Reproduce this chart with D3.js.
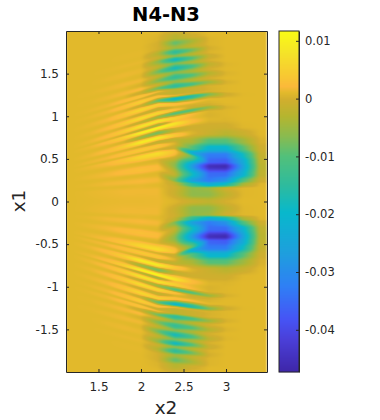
<!DOCTYPE html>
<html><head><meta charset="utf-8">
<script src="https://cdn.jsdelivr.net/npm/d3@7"></script>
<style>html,body{margin:0;padding:0;background:#fff}svg{display:block}text{font-family:"DejaVu Sans",sans-serif;fill:#262626}</style>
</head><body><div id="chart"></div>
<script>
// The surface is mirror-symmetric about x1 = 0, and its fringes are followed by
// "ridge" rows: ridgeX1[r][c] is the |x1| of ridge r at x2 = gridX2[c], ridgeValue[r][c] the value there (thousandths).
const gridX2 = [1.2,1.4,1.6,1.8,2.0,2.2,2.4,2.6,2.8,3.0,3.2,3.4];
const ridgeX1 = [
[0,0,0,0,0,0,0,0,0,0,0,0],
[.101,.107,.113,.119,.125,.132,.094,.082,.082,.082,.082,.082],
[.141,.152,.161,.172,.181,.192,.165,.153,.153,.153,.153,.153],
[.172,.188,.204,.22,.235,.252,.212,.2,.2,.2,.2,.2],
[.214,.236,.258,.28,.302,.325,.247,.247,.247,.247,.247,.247],
[.256,.285,.313,.34,.368,.396,.318,.318,.318,.318,.318,.318],
[.311,.345,.379,.413,.447,.481,.424,.412,.412,.412,.412,.412],
[.365,.405,.445,.485,.525,.565,.588,.53,.471,.471,.471,.471],
[.387,.431,.475,.519,.564,.607,.635,.57,.541,.541,.541,.541],
[.409,.458,.506,.553,.601,.649,.682,.624,.624,.624,.624,.624],
[.447,.498,.547,.598,.647,.698,.729,.706,.706,.706,.706,.706],
[.485,.536,.588,.641,.693,.745,.776,.8,.8,.8,.8,.8],
[.534,.588,.642,.696,.751,.805,.835,.871,.882,.882,.882,.882],
[.584,.64,.695,.752,.807,.864,.918,.941,.965,.965,.965,.965],
[.604,.661,.72,.778,.835,.894,.941,.988,1.012,1.012,1.012,1.012],
[.641,.701,.761,.821,.881,.941,.976,1.024,1.059,1.059,1.059,1.059],
[.688,.748,.808,.868,.928,.988,1.035,1.071,1.106,1.106,1.106,1.106],
[.735,.795,.855,.915,.975,1.035,1.071,1.106,1.141,1.141,1.141,1.141],
[.782,.842,.902,.962,1.022,1.082,1.106,1.129,1.165,1.165,1.165,1.165],
[.835,.895,.955,1.015,1.075,1.135,1.141,1.165,1.2,1.2,1.2,1.2],
[.882,.942,1.002,1.062,1.122,1.182,1.206,1.235,1.259,1.259,1.259,1.259],
[.929,.989,1.049,1.109,1.169,1.229,1.241,1.271,1.294,1.294,1.294,1.294],
[.965,1.025,1.085,1.145,1.205,1.265,1.271,1.294,1.318,1.318,1.318,1.318],
[1.007,1.064,1.119,1.175,1.231,1.287,1.306,1.329,1.353,1.353,1.353,1.353],
[1.058,1.112,1.166,1.22,1.274,1.328,1.353,1.376,1.4,1.4,1.4,1.4],
[1.108,1.16,1.212,1.265,1.316,1.368,1.406,1.424,1.447,1.447,1.447,1.447],
[1.165,1.215,1.265,1.315,1.365,1.415,1.459,1.482,1.506,1.506,1.506,1.506],
[1.218,1.268,1.318,1.368,1.418,1.468,1.512,1.529,1.553,1.553,1.553,1.553],
[1.271,1.321,1.371,1.421,1.471,1.521,1.565,1.588,1.612,1.612,1.612,1.612],
[1.329,1.38,1.429,1.48,1.529,1.58,1.618,1.635,1.659,1.659,1.659,1.659],
[1.388,1.439,1.488,1.539,1.588,1.639,1.665,1.682,1.706,1.706,1.706,1.706],
[1.435,1.486,1.535,1.586,1.635,1.686,1.706,1.729,1.753,1.753,1.753,1.753],
[1.482,1.533,1.582,1.633,1.682,1.733,1.753,1.776,1.8,1.8,1.8,1.8],
[1.541,1.592,1.641,1.692,1.741,1.792,1.806,1.824,1.847,1.847,1.847,1.847],
[1.6,1.651,1.7,1.751,1.8,1.851,1.859,1.882,1.906,1.906,1.906,1.906],
[1.659,1.709,1.759,1.809,1.859,1.909,1.918,1.941,1.965,1.965,1.965,1.965],
[1.812,1.852,1.892,1.932,1.972,2.01,2.01,2.01,2.01,2.01,2.01,2.01]
];
const ridgeValue = [
[1,1.1,1.2,1.3,1.3,1.4,.6,-1,-2,0,1,1],
[1,1.2,1.4,1.6,1.6,1.6,-1,-6,-6,-2,.8,1],
[1,1,1.1,1.1,1.2,1,-.5,-6,-5,-.5,.8,1],
[1,1.2,1.6,1.8,2,1.8,-2,-14,-23,-18,-4,.8],
[1,1,1.1,1,1,.8,-7,-26,-33,-29,-11,-.5],
[1,1.3,1.7,2.4,2.8,2.4,-2,-18,-35,-35,-22,-2],
[1,1,1,1,.8,.5,-6,-27,-45,-46,-26,-2.5],
[1,1.4,2,3.5,6,7,3,-9,-36,-37,-24,-2],
[1,1,1,.9,.5,.2,-1,-23,-33,-33,-19,-1.5],
[1,1.4,1.8,3,4,4,.5,-10,-21,-21,-10,-.5],
[1,1,1,.8,0,-2,-2,-4,-10,-10,-5,.3],
[1,1.4,2.4,4.5,9,9,4,.5,-1,-2.5,-1,.9],
[1,1,.9,.3,-5,-8,-2,-.5,-.5,-.5,.8,1],
[1,1.4,2.4,5,10,11,8,2.5,.7,.6,1,1],
[1,1,.8,0,-3,-5,3,1.5,.3,.8,1,1],
[1,1.4,2.3,4.5,8,8,5,2,.5,.8,1,1],
[1,1,.9,.3,-2,-5,-10,-10,-5,.2,1,1],
[1,1.3,2.1,4,7,6,3,-1,0,.8,1,1],
[1,1,1,.6,-1,-2,.5,0,.5,1,1,1],
[1,1.3,1.8,3.5,6,5,3,2,1,1,1,1],
[1,1,1,.7,-1,-9,-20,-16,-7,-.5,.9,1],
[1,1.2,1.6,3,5,3,1,0,.3,.8,1,1],
[1,1,1,.8,.3,-1,-2,-1,.2,.8,1,1],
[1,1.2,1.5,2.5,3.5,1.5,-2,-1,.3,.8,1,1],
[1,1,1,.9,-1,-8,-15,-11,-5,.2,1,1],
[1,1.1,1.4,1.8,2.2,-1,-6,-3,0,.9,1,1],
[1,1,1,1,.3,-7,-14,-10,-3,.5,1,1],
[1,1.1,1.3,1.6,1.6,-2,-7,-4,0,.9,1,1],
[1,1,1,1,.8,-8,-18,-11,-2,.7,1,1],
[1,1,1.2,1.4,1.3,-2,-8,-4,.2,1,1,1],
[1,1,1,1,1,-6,-19,-10,-1,1,1,1],
[1,1,1.1,1.2,1.2,-1,-7,-3,.5,1,1,1],
[1,1,1,1,1,-3,-15,-8,0,1,1,1],
[1,1,1,1.1,1.1,0,-5,-2,.6,1,1,1],
[1,1,1,1,1,0,-9,-4,.6,1,1,1],
[1,1,1,1,1,.5,-3,-.5,1,1,1,1],
[1,1,1,1,1,1,-.5,.8,1,1,1,1]
];

const xTicks = [1.5,2,2.5,3];
const xTickLabels = ["1.5","2","2.5","3"];
const yTicks = [-1.5,-1,-0.5,0,0.5,1,1.5];
const yTickLabels = ["-1.5","-1","-0.5","0","0.5","1","1.5"];
const cbTicks = [0.01,0,-0.01,-0.02,-0.03,-0.04];
const cbTickLabels = ["0.01","0","-0.01","-0.02","-0.03","-0.04"];
const cmapValues = [-47.3,-41.7,-38.2,-32.5,-26.7,-19.7,-15.1,-9.95,-6.6,-3.05,-0.1,1,2.1,3.5,7.9,11.7];
const cmapColors = ["#3e26a8","#4a3fd8","#4654f5","#2f7ff5","#1e9fdd","#08b8cc","#2dbb9e","#52c07a","#88bb50","#b5b52f","#d2ae2e","#e2b92b","#fbb93a","#f8c533","#f5e328","#f9fb15"];

const margin = {left:66, right:267, top:31, bottom:372};
const x = d3.scaleLinear().domain([1.118,3.482]).range([margin.left,margin.right]);
const y = d3.scaleLinear().domain([2.0,-2.0]).range([margin.top,margin.bottom]);
const color = d3.scaleLinear().domain(cmapValues).range(cmapColors).clamp(true);
const svg = d3.select("#chart").append("svg").attr("width",380).attr("height",420);
const defs = svg.append("defs");
defs.append("clipPath").attr("id","plotClip").append("rect")
  .attr("x",margin.left).attr("y",margin.top).attr("width",margin.right-margin.left).attr("height",margin.bottom-margin.top);
const f = defs.append("filter").attr("id","soft").attr("filterUnits","userSpaceOnUse")
  .attr("x",0).attr("y",0).attr("width",380).attr("height",420).attr("color-interpolation-filters","sRGB");
f.append("feGaussianBlur").attr("stdDeviation","1.3 0.6");

// paint the surface between ridges, as an interpolated pseudocolour plot
const W = margin.right-margin.left, H = margin.bottom-margin.top;
const canvas = document.createElement("canvas"); canvas.width=W; canvas.height=H;
const ctx = canvas.getContext("2d"); const img = ctx.createImageData(W,H);
const colIndex = d3.scaleLinear().domain(gridX2).range(d3.range(gridX2.length)).clamp(true);
const lut = d3.range(0,1181).map(i=>d3.rgb(color(-47.3+i*0.05)));
for(let px=0;px<W;px++){
  const ci = colIndex(x.invert(margin.left+px+0.5));
  const c0 = Math.min(Math.floor(ci),gridX2.length-2), tx = ci-c0;
  const pos = ridgeX1.map(r=>r[c0]*(1-tx)+r[c0+1]*tx);
  const val = ridgeValue.map(r=>r[c0]*(1-tx)+r[c0+1]*tx);
  for(let py=0;py<H;py++){
    const a = Math.abs(y.invert(margin.top+py+0.5));
    let j = d3.bisectRight(pos,a)-1; j = Math.max(0,Math.min(j,pos.length-2));
    const gap = Math.max(pos[j+1]-pos[j],1e-4);
    const t = Math.max(0,Math.min(1,(a-pos[j])/gap));
    const s = (1-Math.cos(Math.PI*t))/2;
    const v = val[j]*(1-s)+val[j+1]*s;
    const c = lut[Math.max(0,Math.min(1180,Math.round((v+47.3)/0.05)))];
    const o = (py*W+px)*4;
    img.data[o]=c.r; img.data[o+1]=c.g; img.data[o+2]=c.b; img.data[o+3]=255;
  }
}
ctx.putImageData(img,0,0);
svg.append("g").attr("clip-path","url(#plotClip)").append("image")
  .attr("x",margin.left).attr("y",margin.top).attr("width",W).attr("height",H)
  .attr("href",canvas.toDataURL()).attr("filter","url(#soft)");

const axisCol = "#262626";
function styleAxis(g){g.selectAll("path").attr("stroke",axisCol).attr("stroke-width",1);g.selectAll("line").attr("stroke",axisCol).attr("stroke-width",1);g.selectAll("text").attr("fill","#262626").attr("font-size",12).attr("font-family","DejaVu Sans");}
const fmtX=(d)=>xTickLabels[xTicks.indexOf(d)], fmtY=(d)=>yTickLabels[yTicks.indexOf(d)];
svg.append("g").attr("transform",`translate(0,${margin.bottom})`).call(d3.axisBottom(x).tickValues(xTicks).tickFormat(fmtX).tickSize(-3).tickSizeOuter(0).tickPadding(10)).call(styleAxis);
svg.append("g").attr("transform",`translate(0,${margin.top})`).call(d3.axisTop(x).tickValues(xTicks).tickFormat("").tickSize(-3).tickSizeOuter(0)).call(styleAxis);
svg.append("g").attr("transform",`translate(${margin.left},0)`).call(d3.axisLeft(y).tickValues(yTicks).tickFormat(fmtY).tickSize(-3).tickSizeOuter(0).tickPadding(7)).call(styleAxis);
svg.append("g").attr("transform",`translate(${margin.right},0)`).call(d3.axisRight(y).tickValues(yTicks).tickFormat("").tickSize(-3).tickSizeOuter(0)).call(styleAxis);

svg.append("text").attr("x",166).attr("y",21).attr("text-anchor","middle").attr("font-size",19.5).attr("font-weight","bold").style("fill","#000").text("N4-N3");
svg.append("text").attr("x",166).attr("y",414).attr("text-anchor","middle").attr("font-size",18.5).text("x2");
svg.append("text").attr("transform","translate(25,201) rotate(-90)").attr("text-anchor","middle").attr("font-size",18.5).text("x1");

// colourbar
const cbX = [279,299];
const cbY = d3.scaleLinear().domain([11.7,-47.3]).range([margin.top,margin.bottom]);
const cbSteps = d3.range(margin.top,margin.bottom);
svg.append("g").selectAll("rect").data(cbSteps).join("rect")
  .attr("x",cbX[0]).attr("width",cbX[1]-cbX[0]).attr("y",d=>d).attr("height",1.2)
  .attr("fill",d=>color(cbY.invert(d+0.5)));
svg.append("rect").attr("x",cbX[0]).attr("y",margin.top).attr("width",cbX[1]-cbX[0]).attr("height",margin.bottom-margin.top).attr("fill","none").attr("stroke",axisCol);
const cbScale = d3.scaleLinear().domain([0.0117,-0.0473]).range([margin.top,margin.bottom]);
svg.append("g").attr("transform",`translate(${cbX[1]},0)`).call(d3.axisRight(cbScale).tickValues(cbTicks).tickFormat(d=>cbTickLabels[cbTicks.indexOf(d)]).tickSize(-3).tickSizeOuter(0).tickPadding(6)).call(styleAxis).selectAll("text").attr("font-size",11.5);
</script></body></html>
